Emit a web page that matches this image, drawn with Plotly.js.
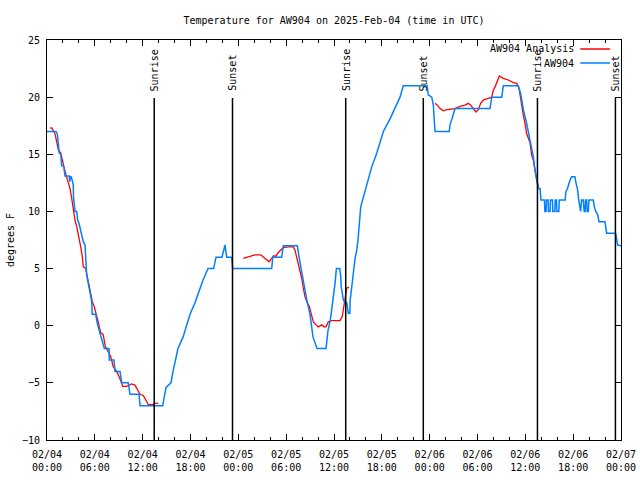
<!DOCTYPE html>
<html>
<head>
<meta charset="utf-8">
<script src="https://cdn.plot.ly/plotly-3.0.1.min.js"></script>
<style>html,body{margin:0;padding:0;background:#fff}#chart{width:640px;height:480px}</style>
</head>
<body>
<div id="chart"></div>
<script>
// Hours since 2025-02-04 00:00 UTC
var stationHours = [0,1.13,1.29,1.42,1.54,1.72,1.84,2.04,2.13,2.26,2.80,2.85,2.97,3.10,3.30,3.32,3.42,3.51,3.73,3.85,4.01,4.14,4.30,4.43,4.55,4.77,4.85,4.98,5.18,5.39,5.61,5.68,6.11,6.31,6.56,6.74,7.19,7.78,7.81,8.40,8.53,9.16,9.37,10.20,10.41,11.54,11.67,14.51,14.93,15.55,15.81,16.43,17.06,17.94,18.56,19.57,20.20,20.90,21.20,21.95,22.33,22.54,23.17,23.29,28.19,28.31,29.44,29.64,31.40,31.74,31.95,32.58,32.99,33.37,33.87,35.00,35.25,35.50,35.71,35.88,36.13,36.30,36.72,36.85,36.90,37.05,37.17,37.38,37.59,37.79,38.00,38.01,38.22,38.42,38.64,38.85,39.01,39.35,39.68,40.10,40.73,41.36,42.19,43.03,43.65,44.28,44.69,47.67,47.83,48.26,48.46,48.67,50.46,50.55,50.76,51.18,55.57,55.78,57.04,57.24,59.12,59.42,59.75,60.17,60.59,61.00,61.21,61.43,61.63,61.84,61.97,62.40,62.45,62.60,62.65,62.85,62.90,63.10,63.15,63.40,63.45,63.70,63.75,63.90,63.95,64.20,64.25,65.00,65.08,65.28,65.40,65.61,65.82,66.21,66.35,66.56,66.69,66.85,66.94,67.05,67.27,67.38,67.50,67.55,67.70,67.75,67.90,67.98,68.53,68.66,68.84,69.08,69.25,69.99,70.20,71.33,71.46,71.58,72.00];
var stationTemps = [17,17,16.8,16,15.1,15,14,14,13.8,13.1,13.1,12.6,13.1,12.9,12.3,11.3,10.6,10,10,9.25,8.96,8.5,8.1,7.65,7.35,7.06,5.46,4.4,3.7,2.8,2.1,1,1,0.2,-0.4,-1,-2,-2,-3,-3,-4,-4,-5,-5,-6,-6,-7,-7,-5.4,-5,-4,-2,-1,1,2,4,5,5,6,6,7.06,6,6,5,5,6,6,7,7,5.5,4.6,2.3,1,-1,-2,-2,-0.4,0.35,1.4,2.25,3.7,5,5,4.3,3.4,2.8,2.25,2,2,1.1,1.1,2.1,3.4,4.9,5.9,6.6,7.5,10.4,11.2,12.2,13.9,15.1,17,18.1,19,20,21,21,20.2,20,19.3,17,17,17.6,18,19,19,20,20,21,21,20.3,18.9,17.7,16.2,14.8,13.6,12.75,12,12,11,11,10,10,11,11,10,10,11,11,10,10,11,11,10,10,11,11,11.7,12,12.3,12.75,13.04,13.04,12.5,11.9,11,10.4,10,11,11,10,10,11,11,10,10,11,11,10.4,10,9.7,9.1,9.1,8.1,8.1,7.35,7.06,7];

var analysisHours = [0.40,0.60,1.00,1.22,1.42,1.72,1.92,2.13,2.38,2.60,2.89,3.10,3.30,3.51,3.73,4.05,4.26,4.43,4.55,4.85,5.06,5.27,5.48,5.68,5.93,6.15,6.36,6.56,6.74,7.06,7.31,7.69,7.99,8.32,8.74,9.07,9.50,10.00,10.62,11.04,11.33,11.67,12.08,12.42,12.71,13.33,13.42,13.96,
  null,
  24.62,25.25,26.09,26.81,27.13,27.56,27.85,28.19,28.39,28.73,28.89,29.23,29.64,30.27,30.90,31.11,31.32,31.52,31.74,31.95,32.15,32.36,32.65,32.90,33.12,33.40,33.74,34.03,34.46,34.75,35.00,35.29,35.71,36.75,37.04,37.26,37.47,37.59,37.88,
  null,
  48.67,48.96,49.30,49.71,50.14,50.55,51.18,51.81,52.43,52.85,53.15,53.48,53.81,54.10,54.40,54.73,55.07,55.36,55.78,55.98,56.20,56.48,56.74,57.24,57.86,58.49,58.92,59.21,59.45,59.60,59.75,59.96,60.17,60.59,60.80,61.00,61.21,61.43,61.63];
var analysisTemps = [17.3,17.3,16.8,16.0,15.4,15.1,14.6,13.9,13.2,12.75,12.0,11.15,10.1,9.25,8.67,7.65,6.78,6.04,5.17,5.0,4.3,3.7,3.0,2.1,1.67,1.14,0.5,-0.1,-0.6,-0.8,-1.8,-2.3,-2.7,-3.6,-4.0,-4.5,-5.3,-5.3,-5.1,-5.2,-5.6,-6.0,-6.1,-6.5,-6.9,-6.9,-6.8,-6.8,
  null,
  5.9,6.04,6.2,6.2,6.0,5.7,5.6,5.9,6.1,6.1,6.3,6.56,6.83,6.9,6.9,6.6,6.0,5.46,5.0,4.15,3.3,2.54,2.0,1.7,1.1,0.35,0.07,-0.1,0.07,-0.1,-0.1,0.35,0.45,0.45,0.8,1.67,2.54,3.3,3.35,
  null,
  19.46,19.3,19.0,18.8,18.9,18.93,19.0,19.2,19.3,19.46,19.3,19.0,18.7,18.9,19.46,19.75,19.8,19.9,20.0,20.6,20.9,21.5,21.85,21.65,21.5,21.27,21.2,20.77,19.6,18.8,18.4,17.7,16.8,16.0,14.9,14.5,13.5,12.75,12.2];

var eventHours = [13.45, 23.27, 37.47, 47.2, 61.52, 71.3];
var eventLabels = ["Sunrise", "Sunset", "Sunrise", "Sunset", "Sunrise", "Sunset"];

var tickHours = [0,6,12,18,24,30,36,42,48,54,60,66,72];
var tickLabels = ["02/04<br>00:00","02/04<br>06:00","02/04<br>12:00","02/04<br>18:00","02/05<br>00:00","02/05<br>06:00","02/05<br>12:00","02/05<br>18:00","02/06<br>00:00","02/06<br>06:00","02/06<br>12:00","02/06<br>18:00","02/07<br>00:00"];
var yTicks = [-10,-5,0,5,10,15,20,25];

var seriesNames = ["AW904 Analysis", "AW904"];
var seriesColors = ["#ff0000", "#0080ff"];

var FONT = "DejaVu Sans Mono, monospace";
var FS = 10;

var traces = [
  {x: analysisHours, y: analysisTemps, mode: "lines", name: seriesNames[0], connectgaps: false,
   line: {color: seriesColors[0], width: 1.3}, showlegend: false},
  {x: stationHours, y: stationTemps, mode: "lines", name: seriesNames[1],
   line: {color: seriesColors[1], width: 1.5}, showlegend: false}
];

var shapes = [];
var annotations = [];
eventHours.forEach(function (h, i) {
  shapes.push({type: "line", xref: "x", yref: "paper", x0: h, x1: h, y0: 0, y1: 0.855,
               line: {color: "#000", width: 1.5}});
  annotations.push({xref: "x", yref: "paper", x: h, y: 0.867, text: eventLabels[i],
                    textangle: -90, showarrow: false, xanchor: "center", yanchor: "bottom",
                    font: {family: FONT, size: FS, color: "#000"}});
});

// key (legend) in gnuplot style: text then sample line
var keyY = [0.9775, 0.9425];
seriesNames.forEach(function (nm, i) {
  annotations.push({xref: "paper", yref: "paper", x: 0.922, y: keyY[i], text: nm,
                    showarrow: false, xanchor: "right", yanchor: "middle",
                    font: {family: FONT, size: FS, color: "#000"}});
  shapes.push({type: "line", xref: "paper", yref: "paper", x0: 0.929, x1: 0.981,
               y0: keyY[i], y1: keyY[i], line: {color: seriesColors[i], width: 1.5}});
});

var layout = {
  width: 640, height: 480,
  margin: {l: 47, r: 19, t: 40, b: 40},
  paper_bgcolor: "#fff", plot_bgcolor: "#fff",
  font: {family: FONT, size: FS, color: "#000"},
  title: {text: "Temperature for AW904 on 2025-Feb-04 (time in UTC)",
          x: 0.5, xref: "paper", xanchor: "center", y: 0.958, yref: "container", yanchor: "middle",
          font: {family: FONT, size: FS, color: "#000"}},
  showlegend: false,
  xaxis: {range: [0, 72], tickmode: "array", tickvals: tickHours, ticktext: tickLabels,
          ticks: "inside", ticklen: 6, tickcolor: "#000", tickwidth: 1, ticklabelstandoff: 5,
          minor: {tickmode: "linear", tick0: 0, dtick: 2, ticks: "inside", ticklen: 3, tickcolor: "#000"},
          showline: true, linecolor: "#000", linewidth: 1, mirror: "ticks",
          showgrid: false, zeroline: false, tickfont: {family: FONT, size: FS, color: "#000"}},
  yaxis: {range: [-10, 25], tickmode: "array", tickvals: yTicks,
          ticks: "inside", ticklen: 6, tickcolor: "#000", tickwidth: 1, ticklabelstandoff: 4,
          showline: true, linecolor: "#000", linewidth: 1, mirror: "ticks",
          showgrid: false, zeroline: false, tickfont: {family: FONT, size: FS, color: "#000"},
          title: {text: "degrees F", standoff: 5, font: {family: FONT, size: FS, color: "#000"}}},
  shapes: shapes,
  annotations: annotations
};

Plotly.newPlot("chart", traces, layout, {displayModeBar: false, staticPlot: true});
</script>
</body>
</html>
